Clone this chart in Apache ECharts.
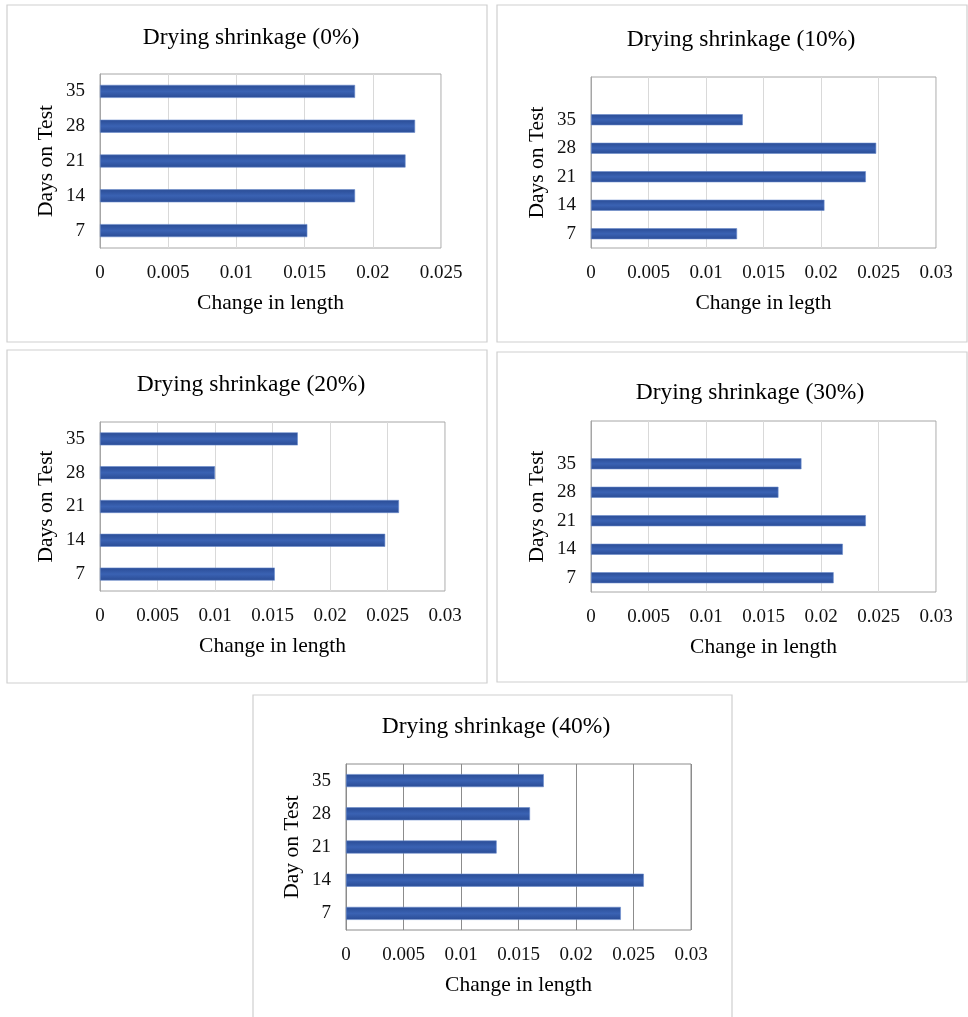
<!DOCTYPE html>
<html><head><meta charset="utf-8">
<script src="https://cdn.jsdelivr.net/npm/echarts@6/dist/echarts.min.js"></script>
<style>html,body{margin:0;padding:0;background:#fff;}#c{width:968px;height:1017px;}</style>
</head><body><div id="c"></div>
<script>
const days = ['7', '14', '21', '28', '35'];
const titles = ['Drying shrinkage (0%)', 'Drying shrinkage (10%)', 'Drying shrinkage (20%)', 'Drying shrinkage (30%)', 'Drying shrinkage (40%)'];
const xNames = ['Change in length', 'Change in legth', 'Change in length', 'Change in length', 'Change in length'];
const yNames = ['Days on Test', 'Days on Test', 'Days on Test', 'Days on Test', 'Day on Test'];
const s0 = [0.0152, 0.0187, 0.0224, 0.0231, 0.0187];
const s10 = [0.0127, 0.0203, 0.0239, 0.0248, 0.0132];
const s20 = [0.0152, 0.0248, 0.0260, 0.0100, 0.0172];
const s30 = [0.0211, 0.0219, 0.0239, 0.0163, 0.0183];
const s40 = [0.0239, 0.0259, 0.0131, 0.0160, 0.0172];
const xMax = [0.025, 0.03, 0.03, 0.03, 0.03];
const xStep = 0.005;
const extraSlot = [false, true, false, true, false];

const series = [s0, s10, s20, s30, s40];
// layout
const grids = [
  {left: 100, top: 74, width: 341, height: 174},
  {left: 591, top: 77, width: 345, height: 171},
  {left: 100, top: 422, width: 345, height: 169},
  {left: 591, top: 421, width: 345, height: 171},
  {left: 346, top: 764, width: 345, height: 166}
];
const titlePos = [[246, 34], [736, 36], [246, 381], [745, 389], [491, 723]];
const barW = [13, 11, 13, 11, 13];
const boxes = [[7, 5, 480, 337], [497, 5, 470, 337], [7, 350, 480, 333], [497, 352, 470, 330], [253, 695, 479, 330]];
const gridColor = ['#d9d9d9', '#d9d9d9', '#d9d9d9', '#d9d9d9', '#8c8c8c'];
const borderColor = ['#a6a6a6', '#a6a6a6', '#a6a6a6', '#a6a6a6', '#8c8c8c'];
const FONT = '"Liberation Serif", "Times New Roman", serif';

const chart = echarts.init(document.getElementById('c'), null, {renderer: 'canvas'});
const opt = {
  backgroundColor: '#fff',
  animation: false,
  title: [], grid: [], xAxis: [], yAxis: [], series: [],
  graphic: []
};
boxes.forEach(b => opt.graphic.push({type: 'rect', shape: {x: b[0], y: b[1], width: b[2], height: b[3]}, style: {fill: 'none', stroke: '#cfcfcf', lineWidth: 1.2}, z: 0}));
for (let i = 0; i < 5; i++) {
  const g = grids[i];
  const cats = extraSlot[i] ? days.concat(['']) : days.slice();
  const vals = extraSlot[i] ? series[i].concat([null]) : series[i].slice();
  opt.title.push({
    text: titles[i], left: titlePos[i][0], top: titlePos[i][1] - 13, textAlign: 'center',
    textStyle: {fontFamily: FONT, fontSize: 23.5, fontWeight: 'normal', color: '#000'}
  });
  opt.grid.push({left: g.left, top: g.top, width: g.width, height: g.height, show: true, borderColor: borderColor[i], borderWidth: 1, backgroundColor: 'transparent'});
  opt.xAxis.push({
    type: 'value', gridIndex: i, min: 0, max: xMax[i], interval: xStep,
    name: xNames[i], nameLocation: 'middle', nameGap: 44,
    nameTextStyle: {fontFamily: FONT, fontSize: 21.5, color: '#000'},
    axisLine: {show: false}, axisTick: {show: false},
    axisLabel: {fontFamily: FONT, fontSize: 19, color: '#111', margin: 16, formatter: v => String(+v.toFixed(3))},
    splitLine: {show: true, lineStyle: {color: gridColor[i], width: 1}}
  });
  opt.yAxis.push({
    type: 'category', gridIndex: i, data: cats,
    name: yNames[i], nameLocation: 'middle', nameGap: 43,
    nameTextStyle: {fontFamily: FONT, fontSize: 21.5, color: '#000'},
    axisLine: {show: true, lineStyle: {color: borderColor[i]}}, axisTick: {show: false},
    axisLabel: {fontFamily: FONT, fontSize: 19, color: '#111', margin: 15},
    splitLine: {show: false}
  });
  opt.series.push({
    type: 'bar', xAxisIndex: i, yAxisIndex: i, data: vals, barWidth: barW[i],
    itemStyle: {
      color: new echarts.graphic.LinearGradient(0, 0, 0, 1, [
        {offset: 0, color: '#2a4c95'}, {offset: 0.5, color: '#3a62b3'}, {offset: 1, color: '#2a4c95'}
      ]),
      borderColor: '#6a8bcc', borderWidth: 0.6
    }
  });
}
chart.setOption(opt);
</script></body></html>
